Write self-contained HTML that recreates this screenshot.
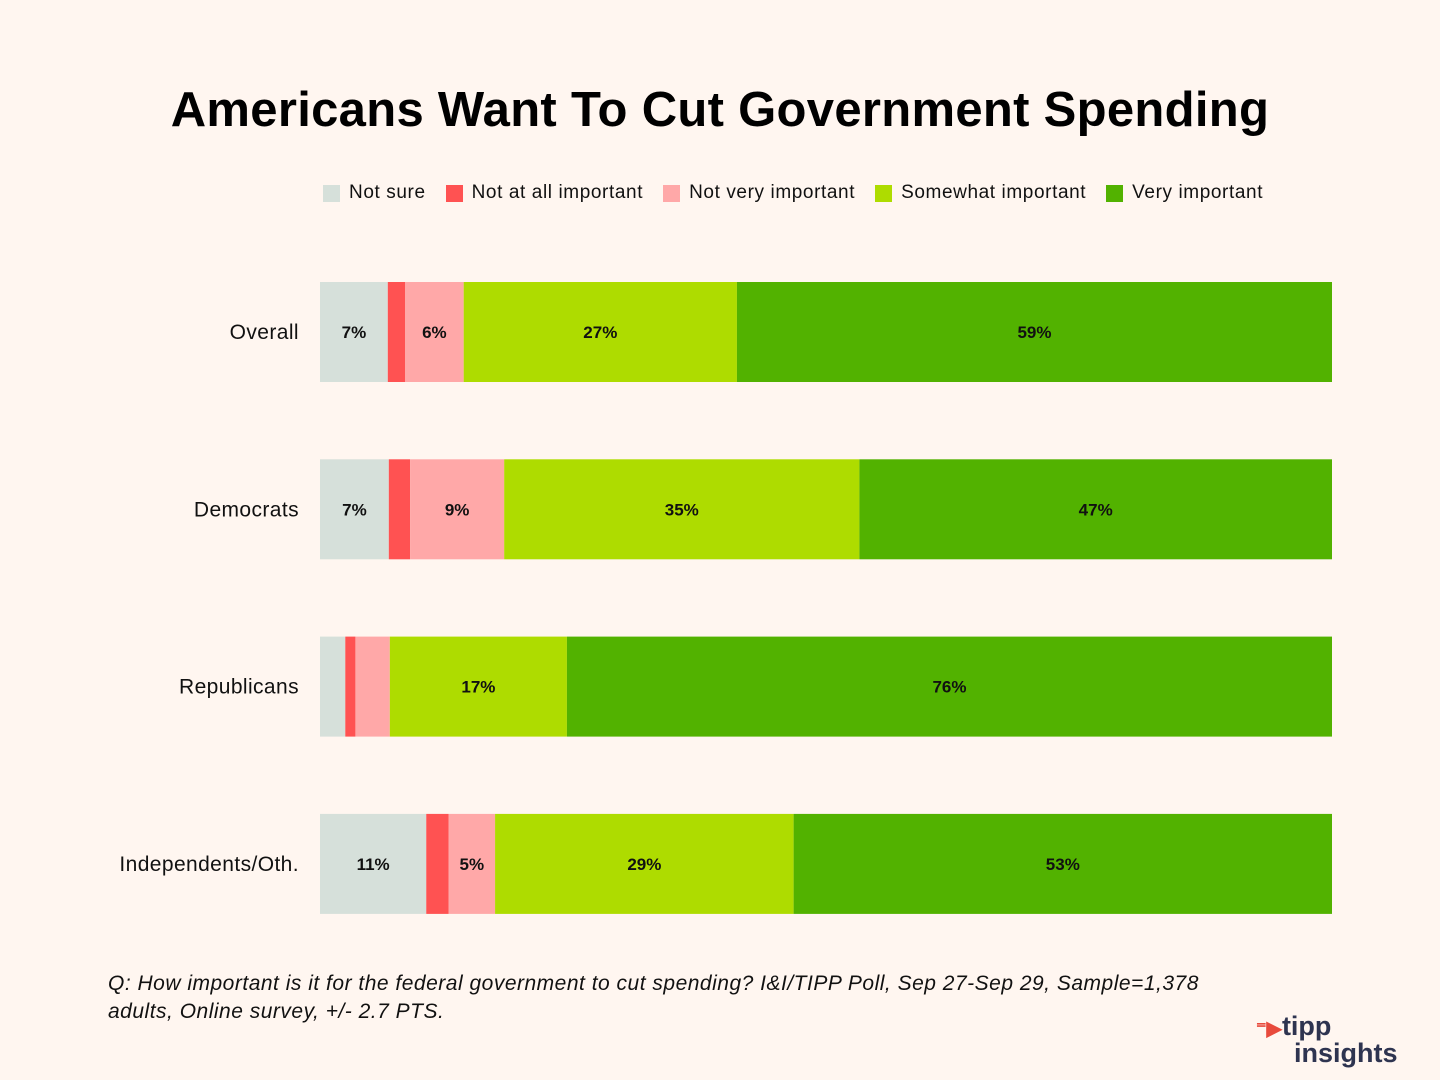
<!DOCTYPE html>
<html><head><meta charset="utf-8">
<style>
body{margin:0;width:1440px;height:1080px;background:#fff6f0;font-family:"Liberation Sans",sans-serif;position:relative;overflow:hidden}
#title{position:absolute;top:82px;left:0;width:1440px;text-align:center;font-size:49px;font-weight:bold;color:#000;letter-spacing:0.3px}
#legend{position:absolute;top:182px;left:323px;font-size:19px;color:#111;display:flex;gap:20px;letter-spacing:0.6px}
.li{display:flex;align-items:center;gap:9px}
.sw{width:17px;height:17px;display:inline-block}
svg{position:absolute;left:0;top:0}
#note{position:absolute;left:108px;top:970px;width:1140px;font-size:21px;font-style:italic;color:#111;line-height:28px;letter-spacing:0.5px}
#logo{position:absolute;left:1256px;top:1014px;font-weight:bold;color:#2e3450;font-size:27px;line-height:24px}
</style></head><body>
<div id="title">Americans Want To Cut Government Spending</div>
<div id="legend">
<span class="li"><span class="sw" style="background:#d6e0da"></span>Not sure</span>
<span class="li"><span class="sw" style="background:#ff5252"></span>Not at all important</span>
<span class="li"><span class="sw" style="background:#ffa8a8"></span>Not very important</span>
<span class="li"><span class="sw" style="background:#aedc00"></span>Somewhat important</span>
<span class="li"><span class="sw" style="background:#52b200"></span>Very important</span>
</div>
<svg id="chart" width="1440" height="1080"></svg>
<div id="note">Q: How important is it for the federal government to cut spending? I&amp;I/TIPP Poll, Sep 27-Sep 29, Sample=1,378 adults, Online survey, +/- 2.7 PTS.</div>
<div id="logo"><span style="color:#e84a3c;font-size:20px">⁼▶</span>tipp<br><span style="margin-left:38px">insights</span></div>
<script>
const categories=["Overall","Democrats","Republicans","Independents/Oth."];
const notSure=[6.7,6.8,2.5,10.5];
const notAtAll=[1.7,2.1,1.0,2.2];
const notVery=[5.8,9.3,3.4,4.6];
const somewhat=[27.0,35.1,17.5,29.5];
const very=[58.8,46.7,75.6,53.2];
const labelNotSure=["7%","7%","","11%"];
const labelNotAtAll=["","","",""];
const labelNotVery=["6%","9%","","5%"];
const labelSomewhat=["27%","35%","17%","29%"];
const labelVery=["59%","47%","76%","53%"];
const series=[[notSure,labelNotSure,"#d6e0da","not-sure"],[notAtAll,labelNotAtAll,"#ff5252","not-at-all"],[notVery,labelNotVery,"#ffa8a8","not-very"],[somewhat,labelSomewhat,"#aedc00","somewhat"],[very,labelVery,"#52b200","very"]];
const X0=320,W=1012,Y0=282,STEP=177.3,BH=100;
const xs=v=>v/100*W;
const ys=i=>Y0+i*STEP;
const svg=document.getElementById('chart');
const NS="http://www.w3.org/2000/svg";
categories.forEach((c,i)=>{
  const t=document.createElementNS(NS,'text');
  
  
  t.setAttribute('x',299);t.setAttribute('y',ys(i)+BH/2+7);
  t.setAttribute('text-anchor','end');t.setAttribute('font-size','21');
  t.setAttribute('letter-spacing','0.4');
  t.setAttribute('font-family','Liberation Sans, sans-serif');t.setAttribute('fill','#111');
  t.textContent=c;svg.appendChild(t);
  const tot=series.reduce((s,se)=>s+se[0][i],0);
  let acc=0;
  series.forEach(se=>{
    const v=se[0][i]/tot*100;
    const r=document.createElementNS(NS,'rect');
    
    
    r.setAttribute('x',X0+xs(acc));r.setAttribute('y',ys(i));
    r.setAttribute('width',xs(v));r.setAttribute('height',BH);
    r.setAttribute('fill',se[2]);svg.appendChild(r);
    if(se[1][i]){
      const l=document.createElementNS(NS,'text');
      
      
      l.setAttribute('x',X0+xs(acc+v/2));l.setAttribute('y',ys(i)+BH/2+6);
      l.setAttribute('text-anchor','middle');l.setAttribute('font-size','17');l.setAttribute('font-weight','bold');
      l.setAttribute('font-family','Liberation Sans, sans-serif');l.setAttribute('fill','#111');
      l.textContent=se[1][i];svg.appendChild(l);
    }
    acc+=v;
  });
});
</script>
</body></html>
